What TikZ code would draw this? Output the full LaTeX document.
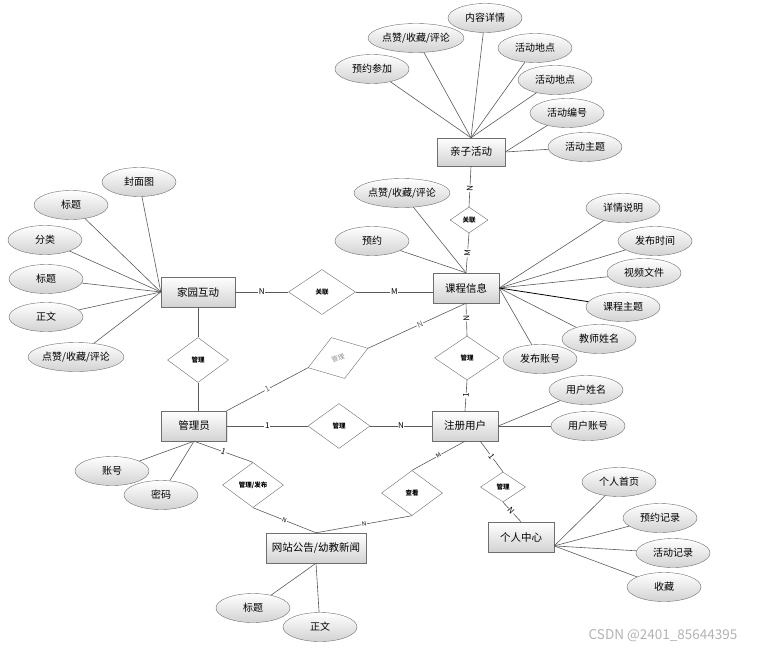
\documentclass[tikz,border=0pt]{standalone}
\usepackage{fontspec}
\setmainfont{Noto Sans CJK SC}
\usepackage{tikz}
\usetikzlibrary{shapes.geometric,shadows}
\usepackage{xcolor}
\definecolor{linecol}{RGB}{90,90,90}
\definecolor{bordercol}{RGB}{110,110,110}
\definecolor{shadecol}{RGB}{210,210,210}
\tikzset{
  % entity box
  entity/.style={rectangle, draw=bordercol, top color=white, bottom color=shadecol,
                 minimum width=66pt, minimum height=30pt, inner sep=2pt,
                 font=\fontsize{10.5}{12}\selectfont,
                 drop shadow={shadow xshift=1.2pt, shadow yshift=-1.2pt, fill=black!20}},
  % attribute ellipse
  attr/.style={ellipse, draw=bordercol, top color=white, bottom color=shadecol,
               minimum width=74pt, minimum height=29pt, inner sep=0pt,
               font=\fontsize{10}{12}\selectfont},
  % relationship diamond
  rel/.style={diamond, draw=bordercol, fill=white, inner sep=0pt,
              font=\fontsize{6.5}{7}\selectfont\bfseries},
  % connector
  link/.style={draw=linecol, line width=0.6pt},
  % cardinality label
  card/.style={font=\fontsize{8}{9}\selectfont, fill=white, inner sep=0.6pt},
}

\begin{document}
\begin{tikzpicture}[x=1pt,y=-1pt]
  \useasboundingbox (0,0) rectangle (759,650);

  % Entities
  \node[entity, minimum width=68pt, minimum height=28pt] (qz) at (471,152) {亲子活动};
  \node[entity] (kc) at (466,288) {课程信息};
  \node[entity, minimum width=74pt] (jy) at (198,292) {家园互动};
  \node[entity, minimum width=65pt] (gly) at (194,426) {管理员};
  \node[entity] (zc) at (465,426) {注册用户};
  \node[entity] (grzx) at (521,537) {个人中心};
  \node[entity, minimum width=100pt] (wz) at (316,548) {网站公告/幼教新闻};

  % Relationships
  \node[rel, minimum width=38pt, minimum height=26pt] (gl1) at (469,220) {关联};
  \node[rel, minimum width=67pt, minimum height=45pt] (gl2) at (322,292) {关联};
  \node[rel, minimum width=61pt, minimum height=45pt] (gl3) at (198,360) {管理};
  \node[rel, minimum width=62pt, minimum height=45pt] (gl4) at (339,426) {管理};
  \node[rel, minimum width=65pt, minimum height=44pt] (gl5) at (467,358) {管理};
  \node[rel, rotate=18, minimum width=63pt, minimum height=43pt, text=black!45,
        font=\fontsize{6.5}{7}\selectfont] (gl6) at (338,358) {管理};
  \node[rel, minimum width=61pt, minimum height=45pt] (gl7) at (253,485) {管理/发布};
  \node[rel, minimum width=61pt, minimum height=45pt] (gl8) at (412,493) {查看};
  \node[rel, minimum width=45pt, minimum height=30pt] (gl9) at (503,487) {管理};

  % Attributes of 亲子活动
  \node[attr] (qa1) at (372,69) {预约参加};
  \node[attr] (qa2) at (416,38) {点赞/收藏/评论};
  \node[attr] (qa3) at (485,18) {内容详情};
  \node[attr] (qa4) at (535,48) {活动地点};
  \node[attr] (qa5) at (555,80) {活动地点};
  \node[attr] (qa6) at (567,113) {活动编号};
  \node[attr] (qa7) at (585,147) {活动主题};
  \foreach \a in {qa1,qa2,qa3,qa4,qa5} \draw[link] (\a) -- (qz.north);
  \foreach \a in {qa6,qa7} \draw[link] (\a) -- (qz.east);

  % Attributes of 家园互动
  \node[attr] (ja1) at (139,182) {封面图};
  \node[attr] (ja2) at (71,205) {标题};
  \node[attr] (ja3) at (45,240) {分类};
  \node[attr] (ja4) at (46,279) {标题};
  \node[attr] (ja5) at (46,317) {正文};
  \node[attr] (ja6) at (76,357) {点赞/收藏/评论};
  \foreach \a in {ja1,ja2,ja3,ja4,ja5,ja6} \draw[link] (\a) -- (jy.west);

  % Attributes of 课程信息
  \node[attr] (ka1) at (402,193) {点赞/收藏/评论};
  \node[attr] (ka2) at (372,241) {预约};
  \node[attr] (ka3) at (623,208) {详情说明};
  \node[attr] (ka4) at (655,241) {发布时间};
  \node[attr] (ka5) at (644,273) {视频文件};
  \node[attr] (ka6) at (623,307) {课程主题};
  \node[attr] (ka7) at (599,339) {教师姓名};
  \node[attr] (ka8) at (540,359) {发布账号};
  \foreach \a in {ka1,ka2} \draw[link] (\a) -- (kc.north);
  \foreach \a in {ka3,ka4,ka5,ka7,ka8} \draw[link] (\a) -- (kc.east);
  \draw[link, draw=black, line width=0.8pt] (ka6) -- (kc.east);

  % Attributes of 管理员 and 注册用户
  \node[attr] (ga1) at (112,471) {账号};
  \node[attr] (ga2) at (161,495) {密码};
  \foreach \a in {ga1,ga2} \draw[link] (\a) -- (gly.south);
  \node[attr] (za1) at (586,390) {用户姓名};
  \node[attr] (za2) at (588,426) {用户账号};
  \foreach \a in {za1,za2} \draw[link] (\a) -- (zc.east);

  % Attributes of 个人中心
  \node[attr] (ra1) at (619,482) {个人首页};
  \node[attr] (ra2) at (660,518) {预约记录};
  \node[attr] (ra3) at (673,553) {活动记录};
  \node[attr] (ra4) at (664,587) {收藏};
  \foreach \a in {ra1,ra2,ra3,ra4} \draw[link] (\a) -- (grzx.-15);

  % Attributes of 网站公告
  \node[attr] (wa1) at (253,608) {标题};
  \node[attr] (wa2) at (320,627) {正文};
  \foreach \a in {wa1,wa2} \draw[link] (\a) -- (wz.south);

  % Relationship links with cardinalities
  \draw[link] (qz.south) -- (gl1.north) node[card, pos=0.55, sloped]{N};
  \draw[link] (gl1.south) -- (kc.north) node[card, midway, sloped]{M};
  \draw[link] (jy.east) -- (gl2.west) node[card, midway]{N};
  \draw[link] (gl2.east) -- (gl2.east -| kc.west) node[card, midway]{M};
  \draw[link] (jy.south) -- (gl3.north);
  \draw[link] (gl3.south) -- (gl3.south |- gly.north);
  \draw[link] (gly.east) -- (gl4.west) node[card, midway]{1};
  \draw[link] (gl4.east) -- (zc.west) node[card, midway]{N};
  \draw[link] (kc.south) -- (gl5.north) node[card, pos=0.45, sloped]{N};
  \draw[link] (gl5.south) -- (zc.north) node[card, midway, sloped]{1};
  \draw[link] (gly.north east) -- (gl6.west) node[card, midway, sloped, text=black!60]{1};
  \draw[link] (gl6.east) -- (kc.south) node[card, pos=0.53, sloped, text=black!60]{N};
  \draw[link] (gly.south) -- (gl7.north) node[card, midway, sloped]{1};
  \draw[link] (gl7.south) -- (wz.north) node[card, midway, sloped, font=\fontsize{6}{7}\selectfont]{N};
  \draw[link] (zc.south) -- (gl8.north) node[card, midway, sloped, font=\fontsize{6}{7}\selectfont]{M};
  \draw[link] (gl8.south) -- (wz.north) node[card, midway, sloped, font=\fontsize{6}{7}\selectfont]{N};
  \draw[link] (zc.-45) -- (gl9.north) node[card, midway, sloped]{1};
  \draw[link] (gl9.south) -- (grzx.north) node[card, pos=0.45, sloped]{N};

  % Watermark
  \node[font=\fontsize{13.5}{15}\selectfont, text=black!30] (mark) at (663,636) {CSDN @2401\_85644395};
\end{tikzpicture}
\end{document}
